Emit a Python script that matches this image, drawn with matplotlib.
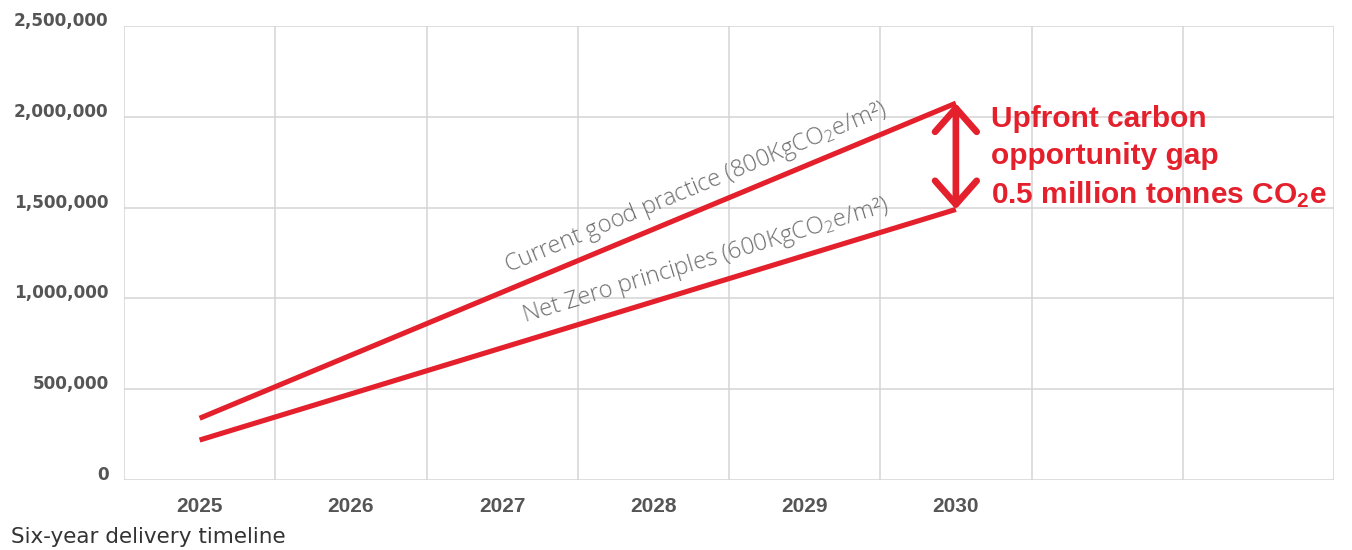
import numpy as np
import matplotlib
matplotlib.use("Agg")
import matplotlib.pyplot as plt
from matplotlib.patches import FancyArrowPatch

# Cumulative upfront carbon (tonnes CO2e) over the delivery timeline
years = ["2025", "2026", "2027", "2028", "2029", "2030"]
current_practice = [340000, 687000, 1034000, 1381000, 1728000, 2075000]
net_zero = [220000, 474000, 728000, 982000, 1236000, 1490000]
y_ticks = [0, 500000, 1000000, 1500000, 2000000, 2500000]
n_columns = 8

RED = "#E3202C"
GREY_TICK = "#555555"
GREY_LABEL = "#6E6E6E"
GRID = "#D4D4D4"

plt.rcParams["mathtext.fontset"] = "custom"
plt.rcParams["mathtext.rm"] = "Liberation Sans"
plt.rcParams["mathtext.bf"] = "Liberation Sans:bold"

fig = plt.figure(figsize=(13.52, 5.5), dpi=100)
W, H = 1352, 550
ax = fig.add_axes([124 / W, 1 - 480 / H, (1334 - 124) / W, (480 - 26) / H])

x = np.arange(len(years))
ax.set_xlim(-0.5, n_columns - 0.5)
ax.set_ylim(0, 2500000)

# grid: column borders and value lines
for xv in np.arange(-0.5, n_columns, 1.0):
    ax.axvline(xv, color=GRID, lw=1.1, zorder=0)
for yv in y_ticks:
    ax.axhline(yv, color=GRID, lw=1.1, zorder=0)
for s in ax.spines.values():
    s.set_visible(False)

ax.set_xticks(x)
ax.set_xticklabels(years, fontfamily="Liberation Sans", fontweight="bold",
                   fontsize=15, color=GREY_TICK)
ax.set_yticks(y_ticks)
ax.set_yticklabels([f"{v:,}" for v in y_ticks], fontfamily="DejaVu Sans",
                   fontweight="bold", fontsize=12.2, color=GREY_TICK)
ax.tick_params(axis="x", length=0, pad=12)
ax.tick_params(axis="y", length=0, pad=11)
plt.setp(ax.get_yticklabels(), va="baseline")

ax.plot(x, current_practice, color=RED, lw=3.7, solid_capstyle="butt",
        solid_joinstyle="miter", zorder=3)
ax.plot(x, net_zero, color=RED, lw=3.7, solid_capstyle="butt",
        solid_joinstyle="miter", zorder=3)

# gap arrow between the two series at the last year
gap = FancyArrowPatch((x[-1], net_zero[-1]), (x[-1], current_practice[-1]),
                      arrowstyle="<->,head_length=17,head_width=15",
                      mutation_scale=1, color=RED, lw=4.8, shrinkA=0, shrinkB=0,
                      zorder=4)
ax.add_patch(gap)

ax.text(x[-1] + 0.23, (current_practice[-1] + net_zero[-1]) / 2 - 6000,
        "Upfront carbon\nopportunity gap\n0.5 million tonnes CO$\\mathbf{_2}$e",
        fontfamily="Liberation Sans", fontweight="bold", fontsize=21.5,
        color=RED, ha="left", va="center", linespacing=1.4)


def line_label(series, x_at, text, gap_px):
    p0 = ax.transData.transform((x[0], series[0]))
    p1 = ax.transData.transform((x[-1], series[-1]))
    ang = np.arctan2(p1[1] - p0[1], p1[0] - p0[0])
    y_at = np.interp(x_at, x, series)
    off = (-gap_px * np.sin(ang), gap_px * np.cos(ang))
    ax.annotate(text, xy=(x_at, y_at), xytext=off, textcoords="offset pixels",
                rotation=np.degrees(ang), rotation_mode="anchor",
                ha="left", va="baseline", fontsize=17, color=GREY_LABEL,
                fontfamily="Open Sans", fontweight="light", fontstyle="normal")


line_label(current_practice, 2.08, "Current good practice (800KgCO$\\mathregular{_2}$e/m²)", 16)
line_label(net_zero, 2.186, "Net Zero principles (600KgCO$\\mathregular{_2}$e/m²)", 17.5)

fig.text(11 / W, 1 - 537 / H, "Six-year delivery timeline", fontfamily="DejaVu Sans",
         fontsize=15.5, color="#333333", ha="left", va="center")

fig.savefig("out.png", dpi=100)
